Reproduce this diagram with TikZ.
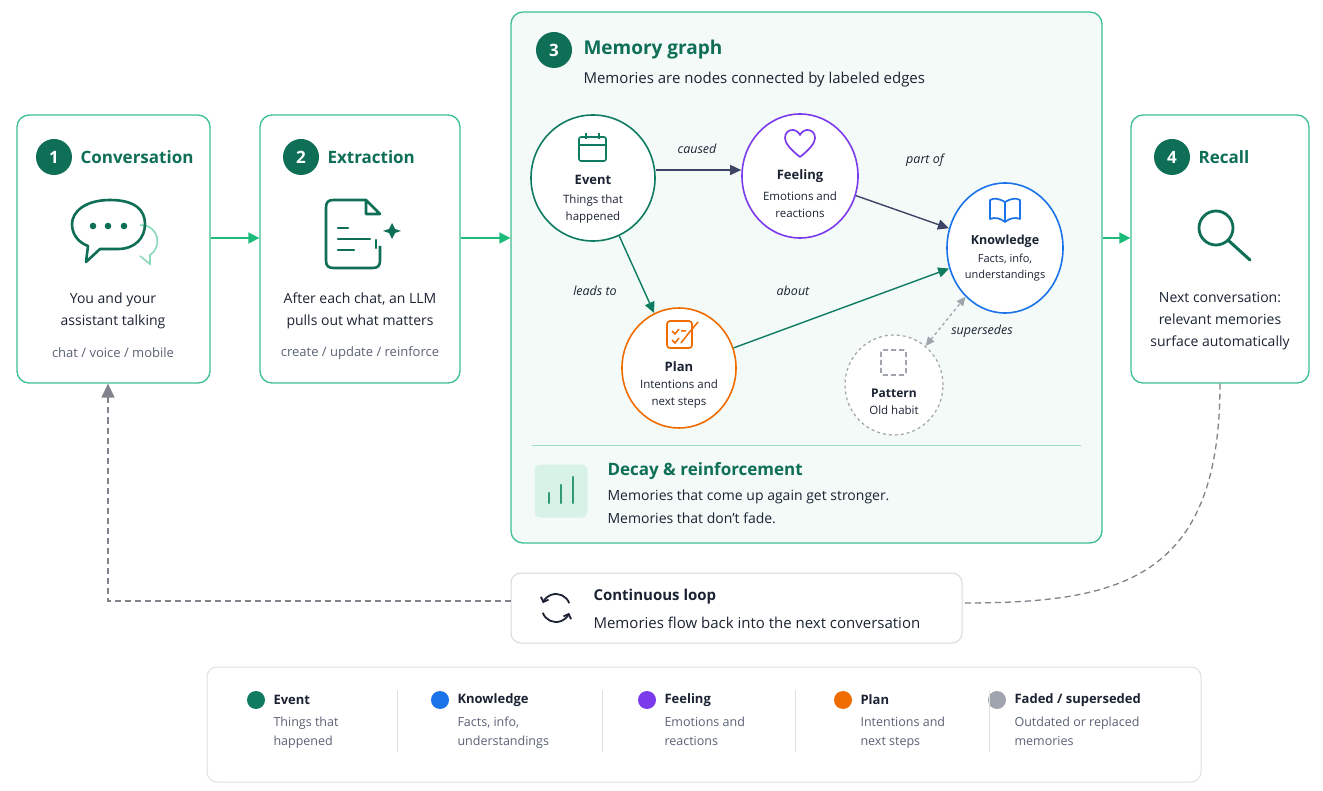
\documentclass[tikz,border=0pt]{standalone}
\usepackage{fontspec}
\setmainfont{Open Sans}
\usetikzlibrary{arrows.meta,shapes.geometric}
\definecolor{brd}{HTML}{3CC08E}
\definecolor{dk}{HTML}{0E6E56}
\definecolor{evc}{HTML}{0F7C62}
\definecolor{knc}{HTML}{1A73E8}
\definecolor{fec}{HTML}{7C3AED}
\definecolor{plc}{HTML}{EF6C00}
\definecolor{fac}{HTML}{A0A4AE}
\definecolor{txt}{HTML}{1B2333}
\definecolor{gry}{HTML}{5A6275}
\definecolor{edg}{HTML}{3D4466}
\definecolor{arr}{HTML}{1DBB7A}
\begin{document}
\begin{tikzpicture}[x=1pt,y=-1pt,
 box/.style={draw=brd,line width=1.3pt,rounded corners=12pt,fill=white},
 num/.style={circle,fill=dk,text=white,font=\bfseries\fontsize{17}{17}\selectfont,minimum size=36pt,inner sep=0},
 ttl/.style={anchor=west,text=dk,font=\bfseries\fontsize{17}{17}\selectfont},
 body/.style={text=txt,align=center,font=\fontsize{14}{22}\selectfont},
 sub/.style={text=gry,font=\fontsize{13}{13}\selectfont},
 mem/.style={ellipse,line width=1.6pt,fill=white,inner sep=0},
 mt/.style={text=txt,font=\bfseries\fontsize{13}{13}\selectfont},
 md/.style={text=txt,align=center,font=\fontsize{11.5}{17}\selectfont},
 el/.style={text=txt,font=\itshape\fontsize{12.5}{12.5}\selectfont},
 ed/.style={draw=edg,line width=1.4pt,-{Triangle[length=11pt,width=10pt]}},
 ga/.style={draw=arr,line width=1.6pt,-{Triangle[length=11pt,width=11pt]}},
 lg/.style={anchor=west,text=txt,font=\bfseries\fontsize{13}{13}\selectfont},
 ld/.style={anchor=north west,text=gry,align=left,font=\fontsize{12.5}{19}\selectfont},
]
\useasboundingbox[fill=white] (0,0) rectangle (1323,791);
% boxes
\node[box,minimum width=193pt,minimum height=268pt] (b1) at (113.5,249) {};
\node[box,minimum width=200pt,minimum height=268pt] (b2) at (360,249) {};
\node[box,fill={rgb,255:red,243;green,250;blue,248},minimum width=591pt,minimum height=531pt] (b3) at (806.5,277.5) {};
\node[box,minimum width=178pt,minimum height=268pt] (b4) at (1220,249) {};
\draw[ga] (b1.east|-0,238) -- (b2.west|-0,238);
\draw[ga] (b2.east|-0,238) -- (b3.west|-0,238);
\draw[ga] (b3.east|-0,238) -- (b4.west|-0,238);
% box1
\node[num] (n1) at (54,157) {1};
\node[ttl] at (77,157) {Conversation};
\draw[brd!60,line width=1.6pt] (140,225) .. controls (160,225) and (162,248) .. (150,255) -- (150,264) -- (140,256);
\draw[dk,line width=2.6pt,line join=round] (110,200) .. controls (85,200) and (72,212) .. (72,224) .. controls (72,236) and (80,243) .. (88,246) -- (86,262) -- (100,249) -- (118,249) .. controls (135,249) and (145,238) .. (145,224) .. controls (145,210) and (135,200) .. (110,200) -- cycle;
\foreach \x in {93,108,124}\fill[dk] (\x,226) circle (3.3pt);
\node[body] at (113,311) {You and your\\assistant talking};
\node[sub] at (113,353) {chat / voice / mobile};
% box2
\node[num] (n2) at (301,157) {2};
\node[ttl] at (324,157) {Extraction};
\draw[dk,line width=2.6pt,line join=round] (366,200) -- (334,200) .. controls (328,200) and (326,202) .. (326,208) -- (326,260) .. controls (326,266) and (328,268) .. (334,268) -- (372,268) .. controls (378,268) and (380,266) .. (380,260) -- (380,246);
\draw[dk,line width=2.6pt,line join=round] (366,200) -- (380,214) -- (366,214) -- cycle;
\draw[dk,line width=2.2pt,line cap=round] (338,228)--(348,228) (338,239)--(370,239) (338,250)--(354,250) (376,240)--(376,248);
\fill[dk] (392,223) -- (395,229) -- (401,231) -- (395,233) -- (392,239) -- (389,233) -- (383,231) -- (389,229) -- cycle;
\node[body] at (360,311) {After each chat, an LLM\\pulls out what matters};
\node[sub] at (360,353) {create / update / reinforce};
% box3
\node[num] (n3) at (554,50) {3};
\node[ttl,font=\bfseries\fontsize{19}{19}\selectfont] at (580,50) {Memory graph};
\node[anchor=west,text=txt,font=\fontsize{15}{15}\selectfont] at (580,80) {Memories are nodes connected by labeled edges};
\node[mem,draw=evc,minimum width=124pt,minimum height=126pt] (ev) at (593,178) {};
\node[mem,draw=fec,minimum width=116pt,minimum height=124pt] (fe) at (800,176) {};
\node[mem,draw=knc,minimum width=116pt,minimum height=130pt] (kn) at (1005,248) {};
\node[mem,draw=plc,minimum width=114pt,minimum height=120pt] (pl) at (679,368) {};
\node[mem,draw=fac,dashed,line width=1.2pt,minimum width=98pt,minimum height=100pt] (pa) at (894,385) {};
% node contents
\draw[evc,line width=1.6pt,rounded corners=2pt] (579,137) rectangle (606,161); \draw[evc,line width=1.6pt] (579,145)--(606,145) (586,133)--(586,139) (599,133)--(599,139);
\node[mt] at (593,180) {Event};
\node[md] at (593,209) {Things that\\happened};
\draw[fec,line width=1.7pt,line join=round] (800,157) .. controls (790,149) and (785,143) .. (785,138) .. controls (785,129) and (796,127) .. (800,135) .. controls (804,127) and (815,129) .. (815,138) .. controls (815,143) and (810,149) .. (800,157) -- cycle;
\node[mt] at (800,176) {Feeling};
\node[md] at (800,205) {Emotions and\\reactions};
\draw[knc,line width=1.7pt,line join=round] (1005,222) -- (1005,202) .. controls (998,198) and (994,198) .. (990,200) -- (990,219) .. controls (995,217) and (1000,218) .. (1005,222) .. controls (1010,218) and (1015,217) .. (1020,219) -- (1020,200) .. controls (1016,198) and (1012,198) .. (1005,202);
\node[mt,font=\bfseries\fontsize{12.5}{12.5}\selectfont] at (1005,241) {Knowledge};
\node[md,font=\fontsize{11}{16}\selectfont] at (1005,268) {Facts, info,\\understandings};
\draw[plc,line width=1.7pt,rounded corners=3pt] (667,321) rectangle (692,348);
\draw[plc,line width=1.5pt] (672,331)--(675,334)--(679,329) (672,340)--(675,343)--(679,338) (681,331)--(686,331) (681,343)--(688,334)--(698,322);
\node[mt] at (679,367) {Plan};
\node[md] at (679,394) {Intentions and\\next steps};
\draw[fac,line width=1.7pt,dashed,dash pattern=on 5pt off 3pt,rounded corners=2pt] (881,350) rectangle (906,375);
\node[mt,font=\bfseries\fontsize{12}{12}\selectfont] at (894,393) {Pattern};
\node[md] at (894,410) {Old habit};
% edges
\draw[ed] (ev.east|-0,170) -- (fe.west|-0,170);
\node[el] at (697,149) {caused};
\draw[ed] (fe) -- (kn);
\node[el] at (925,160) {part of};
\draw[ed,draw=evc] (ev) -- (pl);
\node[el] at (595,291) {leads to};
\draw[ed,draw=evc] (pl) -- (kn);
\node[el] at (793,291) {about};
\draw[draw=fac,line width=1.3pt,dashed,{Triangle[length=9pt,width=8pt]}-{Triangle[length=9pt,width=8pt]}] (pa) -- (kn);
\node[el] at (982,331) {supersedes};
\draw[brd!50,line width=0.8pt] (532,445) -- (1081,445);
\node[fill={rgb,255:red,216;green,242;blue,232},rounded corners=5pt,minimum size=53pt] (dc) at (561,491) {};
\draw[brd!80!black,line width=2.6pt,line cap=round] (549,503)--(549,493) (561,503)--(561,485) (573,503)--(573,477);
\node[ttl] at (604,471) {Decay \& reinforcement};
\node[anchor=west,text=txt,align=left,font=\fontsize{14}{23}\selectfont] at (604,507) {Memories that come up again get stronger.\\Memories that don’t fade.};
% box4
\node[num] (n4) at (1172,157) {4};
\node[ttl] at (1195,157) {Recall};
\draw[dk,line width=2.8pt] (1216,228) circle (17pt);
\draw[dk,line width=3pt,line cap=round] (1229,241) -- (1250,260);
\node[body] at (1220,321) {Next conversation:\\relevant memories\\surface automatically};
% loop
\node[draw=black!15,line width=1pt,rounded corners=10pt,fill=white,minimum width=451pt,minimum height=70pt] (lp) at (736.5,608) {};
\draw[txt,line width=1.8pt,-{Straight Barb[length=4pt]}] (569.2,603.2) arc (-20:-160:14);
\draw[txt,line width=1.8pt,-{Straight Barb[length=4pt]}] (542.8,612.8) arc (160:20:14);
\node[anchor=west,text=txt,font=\bfseries\fontsize{15}{15}\selectfont] at (590,597) {Continuous loop};
\node[anchor=west,text=txt,font=\fontsize{15}{15}\selectfont] at (590,623) {Memories flow back into the next conversation};
\coordinate (lc) at (108,601);
\draw[fac!80!black,line width=1.3pt,dash pattern=on 6pt off 4pt,-{Triangle[length=14pt,width=13pt]}] (lp.west|-0,601) -- (lc) -- (b1.south-|lc);
\draw[fac!80!black,line width=1.3pt,dash pattern=on 6pt off 4pt] (b4.south) .. controls (1220,580) and (1120,603) .. (lp.east|-0,603);
% legend
\node[draw=black!12,line width=1pt,rounded corners=10pt,fill=white,minimum width=994pt,minimum height=115pt] (lgd) at (704,724.5) {};
\foreach \x/\c/\a/\b in {256/evc/Event/{Things that\\happened}, 440/knc/Knowledge/{Facts, info,\\understandings}, 647/fec/Feeling/{Emotions and\\reactions}, 843/plc/Plan/{Intentions and\\next steps}, 997/fac/{Faded / superseded}/{Outdated or replaced\\memories}}{
 \fill[\c] (\x,700) circle (9pt);
 \node[lg] at (\x+14,700) {\a};
 \node[ld] at (\x+14,713) {\b};
}
\foreach \x in {397,602,795,989}\draw[black!12,line width=0.8pt] (\x,690)--(\x,752);
\end{tikzpicture}
\end{document}
